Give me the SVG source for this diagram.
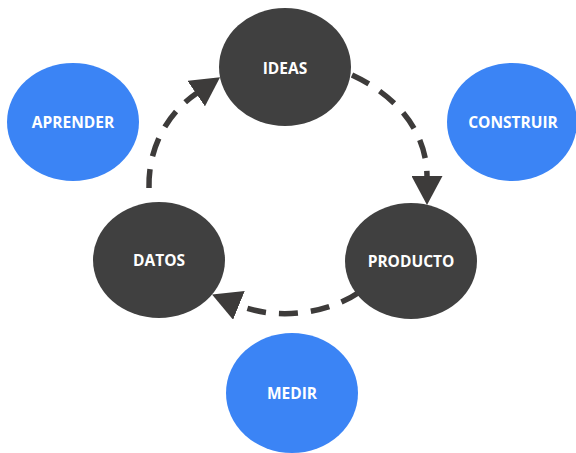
<svg xmlns="http://www.w3.org/2000/svg" width="576" height="453" viewBox="0 0 576 453">
  <style>
    .dark { fill: #404040; }
    .blue { fill: #3b84f5; }
    .label { fill: #ffffff; font-family: "Open Sans", "Liberation Sans", sans-serif; font-weight: bold; font-size: 15.5px; text-anchor: middle; dominant-baseline: central; }
    .link { fill: none; stroke: #3d3b3a; stroke-width: 5.5; stroke-dasharray: 19 13; }
  </style>
  <defs>
    <marker id="arrow" viewBox="0 0 29 31" refX="1" refY="15.5" markerWidth="29" markerHeight="31" markerUnits="userSpaceOnUse" orient="auto">
      <path d="M0,0 L29,15.5 L0,31 z" fill="#3d3b3a"/>
    </marker>
  </defs>

  <g id="connectors">
    <path class="link" d="M352,75 C395,95 427,130 427,177" marker-end="url(#arrow)"/>
    <path class="link" d="M358,293 C330,312 280,322 238,305" marker-end="url(#arrow)"/>
    <path class="link" d="M149,188 C148,150 165,115 197,93" marker-end="url(#arrow)"/>
  </g>

  <g id="ideas">
    <ellipse class="dark" cx="285" cy="67" rx="66" ry="59"/>
    <text class="label" x="285" y="68">IDEAS</text>
  </g>
  <g id="producto">
    <ellipse class="dark" cx="411" cy="261" rx="66" ry="58"/>
    <text class="label" x="411" y="261">PRODUCTO</text>
  </g>
  <g id="datos">
    <ellipse class="dark" cx="159" cy="260" rx="66" ry="58"/>
    <text class="label" x="159" y="260">DATOS</text>
  </g>
  <g id="aprender">
    <ellipse class="blue" cx="73" cy="122" rx="66" ry="59"/>
    <text class="label" x="73" y="122">APRENDER</text>
  </g>
  <g id="construir">
    <ellipse class="blue" cx="512" cy="122" rx="65" ry="59"/>
    <text class="label" x="513" y="122">CONSTRUIR</text>
  </g>
  <g id="medir">
    <ellipse class="blue" cx="292" cy="393" rx="66" ry="60"/>
    <text class="label" x="292" y="393">MEDIR</text>
  </g>
</svg>
